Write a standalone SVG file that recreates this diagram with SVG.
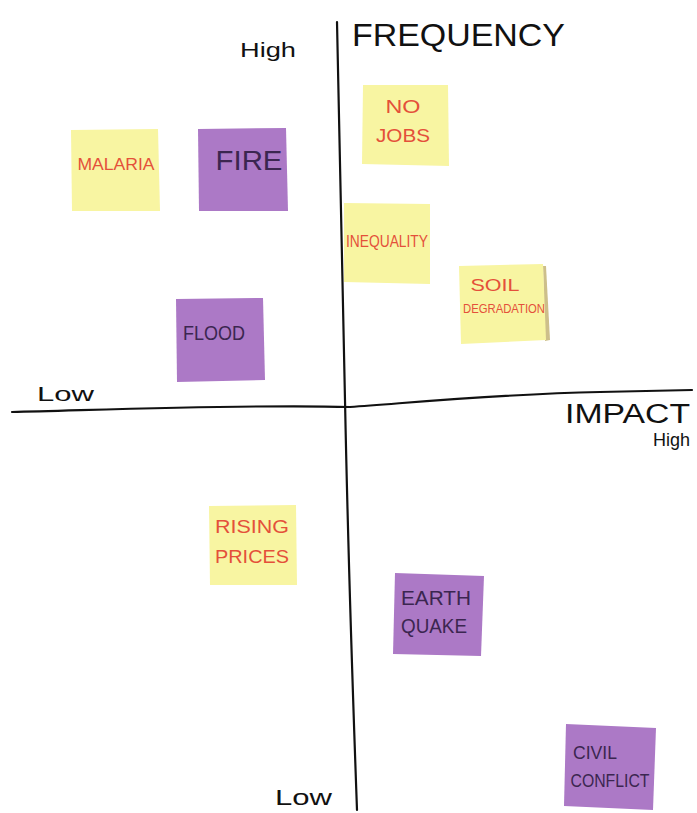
<svg xmlns="http://www.w3.org/2000/svg" width="697" height="813" viewBox="0 0 697 813">
<style>
.axis{fill:none;stroke:#111;stroke-width:2.2;stroke-linecap:round}
.lbl{font-family:"Liberation Sans",Arial,sans-serif;fill:#111}
.y{fill:#f8f5a2}
.p{fill:#ac79c6}
.rt{font-family:"Liberation Sans",Arial,sans-serif;fill:#e4503a;text-anchor:middle}
.dt{font-family:"Liberation Sans",Arial,sans-serif;fill:#3b2650;text-anchor:middle}
</style>
<rect width="697" height="813" fill="#ffffff"/>
<g id="axes">
<path class="axis" d="M337,22 C340,200 343,300 345,400 C348,550 353,700 357,810"/>
<path class="axis" d="M12,412 C100,410 250,404 350,407 C420,402 500,394 600,392 L692,390"/>
<text class="lbl" x="352" y="46" font-size="32" textLength="213" lengthAdjust="spacingAndGlyphs">FREQUENCY</text>
<text class="lbl" x="240" y="57" font-size="20" textLength="56" lengthAdjust="spacingAndGlyphs">High</text>
<text class="lbl" x="37" y="401" font-size="20" textLength="57" lengthAdjust="spacingAndGlyphs">Low</text>
<text class="lbl" x="565" y="423" font-size="27" textLength="125" lengthAdjust="spacingAndGlyphs">IMPACT</text>
<text class="lbl" x="653" y="446" font-size="18">High</text>
<text class="lbl" x="275" y="805" font-size="22" textLength="57" lengthAdjust="spacingAndGlyphs">Low</text>
</g>
<g id="malaria">
<polygon class="y" points="71,130 158,129 160,211 72,211"/>
<text class="rt" x="116" y="170" font-size="17" textLength="77" lengthAdjust="spacingAndGlyphs">MALARIA</text>
</g>
<g id="fire">
<polygon class="p" points="198,129 286,128 288,211 199,211"/>
<text class="dt" x="249" y="170" font-size="27" textLength="67" lengthAdjust="spacingAndGlyphs">FIRE</text>
</g>
<g id="nojobs">
<polygon class="y" points="363,85 448,85 449,166 362,164"/>
<text class="rt" x="403" y="113" font-size="19" textLength="35" lengthAdjust="spacingAndGlyphs">NO</text>
<text class="rt" x="403" y="142" font-size="19" textLength="54" lengthAdjust="spacingAndGlyphs">JOBS</text>
</g>
<g id="inequality">
<polygon class="y" points="344,203 430,204 430,284 344,282"/>
<text class="rt" x="387" y="247" font-size="16" textLength="82" lengthAdjust="spacingAndGlyphs">INEQUALITY</text>
</g>
<g id="soil">
<polygon fill="#cdbf8a" points="543,266 546,266 550,340 545,341"/>
<polygon class="y" points="459,266 543,264 546,340 461,344"/>
<text class="rt" x="495" y="291" font-size="17" textLength="49" lengthAdjust="spacingAndGlyphs">SOIL</text>
<text class="rt" x="504" y="313" font-size="13" textLength="82" lengthAdjust="spacingAndGlyphs">DEGRADATION</text>
</g>
<g id="flood">
<polygon class="p" points="176,299 263,298 265,380 177,382"/>
<text class="dt" x="214" y="340" font-size="20" textLength="62" lengthAdjust="spacingAndGlyphs">FLOOD</text>
</g>
<g id="rising">
<polygon class="y" points="209,506 296,505 297,585 210,585"/>
<text class="rt" x="252" y="533" font-size="19" textLength="74" lengthAdjust="spacingAndGlyphs">RISING</text>
<text class="rt" x="252" y="563" font-size="19" textLength="74" lengthAdjust="spacingAndGlyphs">PRICES</text>
</g>
<g id="earthquake">
<polygon class="p" points="395,573 484,576 481,656 393,654"/>
<text class="dt" x="436" y="605" font-size="20" textLength="70" lengthAdjust="spacingAndGlyphs">EARTH</text>
<text class="dt" x="434" y="633" font-size="20" textLength="66" lengthAdjust="spacingAndGlyphs">QUAKE</text>
</g>
<g id="civil">
<polygon class="p" points="566,724 656,728 653,810 564,806"/>
<text class="dt" x="595" y="759" font-size="19" textLength="44" lengthAdjust="spacingAndGlyphs">CIVIL</text>
<text class="dt" x="610" y="787" font-size="19" textLength="79" lengthAdjust="spacingAndGlyphs">CONFLICT</text>
</g>
</svg>
